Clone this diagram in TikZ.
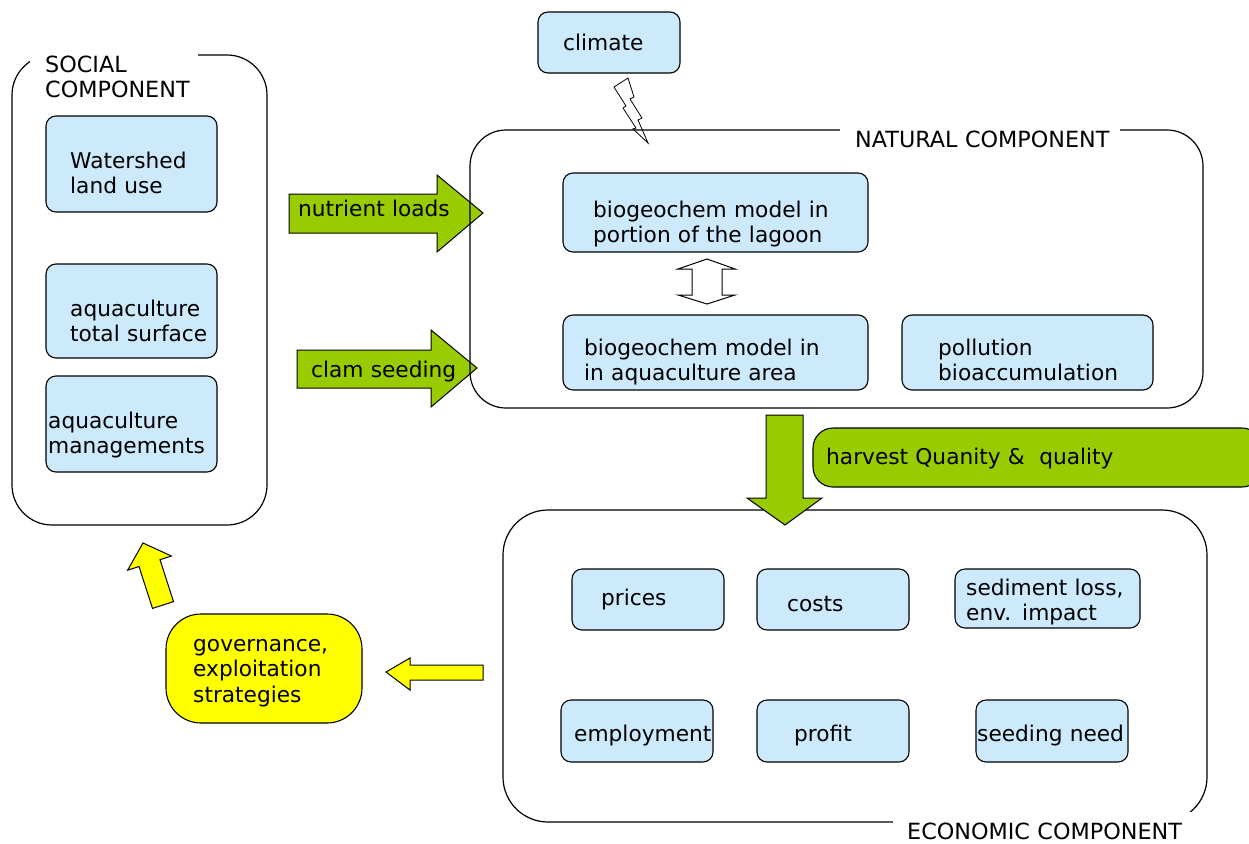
\documentclass[tikz,border=0pt]{standalone}
\usepackage{fontspec}
\setmainfont{DejaVu Sans}
\usetikzlibrary{fit}
\definecolor{boxblue}{RGB}{204,234,252}
\definecolor{agreen}{RGB}{153,204,0}
\definecolor{ayellow}{RGB}{255,255,0}
\begin{document}
\begin{tikzpicture}[x=1pt,y=-1pt,
  every node/.style={font=\fontsize{21.7}{25.5}\selectfont, inner sep=0pt},
  cont/.style={draw, line width=1.2pt, rounded corners=40pt, inner sep=0pt},
  bbox/.style={draw, line width=1.1pt, fill=boxblue, rounded corners=10pt, inner sep=0pt},
  txt/.style={anchor=base west, align=left, text width=400pt},
  captxt/.style={txt, font=\fontsize{22.3}{25.5}\selectfont},
  garrow/.style={draw, line width=1pt, fill=agreen, line join=miter},
  yarrow/.style={draw, line width=1pt, fill=ayellow, line join=miter},
  gap/.style={fill=white, draw=none}]
\useasboundingbox (0,0) rectangle (1249,843);

% ---------- social component ----------
\node[cont, fit={(12,55) (267,525)}] (soc) {};
\fill[gap] (30,46) rectangle (198,64);
\node[captxt] (socl) at (45,72) {SOCIAL\\COMPONENT};
\node[bbox, fit={(46,116) (217,212)}] (ws) {};
\node[txt] (wst) at (70,168) {Watershed\\land use};
\node[bbox, fit={(46,264) (217,358)}] (ats) {};
\node[txt] (atst) at (70,316) {aquaculture\\total surface};
\node[bbox, fit={(46,376) (217,472)}] (am) {};
\node[txt] (amt) at (48,428) {aquaculture\\managements};

% ---------- green side arrows ----------
\filldraw[garrow] (289,194) -- (437,194) -- (437,175) -- (483,213) -- (437,252) -- (437,233) -- (289,233) -- cycle;
\node[txt] (nl) at (298,216) {nutrient loads};
\filldraw[garrow] (297,350) -- (431,350) -- (431,330) -- (477,368) -- (431,407) -- (431,388) -- (297,388) -- cycle;
\node[txt] (cs) at (311,377) {clam seeding};

% ---------- climate ----------
\node[bbox, fit={(538,12) (680,73)}] (clim) {};
\node[txt] (climt) at (563,51) {climate};
\draw[line width=0.8pt, line join=miter] (628,78) -- (614,87) -- (626,106) -- (623,108) -- (636,128) -- (633,129) -- (648,143) -- (638,120) -- (642,118) -- (630,99) -- (634,97) -- cycle;

% ---------- natural component ----------
\node[cont, rounded corners=36pt, fit={(470,130) (1203,408)}] (nat) {};
\fill[gap] (840,123) rectangle (1120,137);
\node[captxt] (natl) at (855,147) {NATURAL COMPONENT};
\node[bbox, fit={(563,173) (868,252)}] (bgl) {};
\node[txt] (bglt) at (593,217) {biogeochem model in\\portion of the lagoon};
\node[bbox, fit={(563,315) (868,390)}] (bga) {};
\node[txt] (bgat) at (584,355) {biogeochem model in\\in aquaculture area};
\node[bbox, fit={(902,315) (1153,390)}] (pol) {};
\node[txt] (polt) at (938,355) {pollution\\bioaccumulation};
\filldraw[draw=black, fill=white, line width=1pt, line join=miter] (707,259) -- (735,269) -- (722,269) -- (722,295) -- (735,295) -- (707,304) -- (678,295) -- (692,295) -- (692,269) -- (678,269) -- cycle;

% ---------- harvest ----------
\node[draw, line width=1.1pt, fill=agreen, rounded corners=20pt, fit={(813,428) (1262,487)}] (harv) {};
\node[txt] (harvt) at (826,464) {harvest Quanity \&\ \ quality};

% ---------- economic component ----------
\node[cont, rounded corners=45pt, fit={(503,510) (1207,822)}] (eco) {};
\fill[gap] (893,812) rectangle (1249,843);
\node[captxt] (ecol) at (907,839) {ECONOMIC COMPONENT};
\filldraw[garrow] (766,415) -- (803,415) -- (803,498) -- (822,498) -- (785,525) -- (747,498) -- (766,498) -- cycle;

\node[bbox, fit={(572,569) (724,630)}] (pri) {};
\node[txt] (prit) at (601,605) {prices};
\node[bbox, fit={(757,569) (909,630)}] (cost) {};
\node[txt] (costt) at (787,611) {costs};
\node[bbox, fit={(955,569) (1140,628)}] (sed) {};
\node[txt] (sedt) at (966,595) {sediment loss,\\env. impact};
\node[bbox, fit={(561,700) (713,762)}] (emp) {};
\node[txt] (empt) at (574,741) {employment};
\node[bbox, fit={(757,700) (909,762)}] (prof) {};
\node[txt] (proft) at (794,741) {profit};
\node[bbox, fit={(976,700) (1128,762)}] (seed) {};
\node[txt] (seedt) at (977,741) {seeding need};

% ---------- governance ----------
\node[draw, line width=1.1pt, fill=ayellow, rounded corners=35pt, fit={(166,614) (362,723)}] (gov) {};
\node[txt] (govt) at (193,651) {governance,\\exploitation\\strategies};
\filldraw[yarrow] (483,665) -- (410,665) -- (410,658) -- (386,672) -- (410,690) -- (410,680) -- (483,680) -- cycle;
\filldraw[yarrow] (173.5,601.6) -- (160,559.7) -- (171.4,556) -- (143,543) -- (127.6,570.2) -- (139,566.5) -- (152.5,608.4) -- cycle;
\end{tikzpicture}
\end{document}
